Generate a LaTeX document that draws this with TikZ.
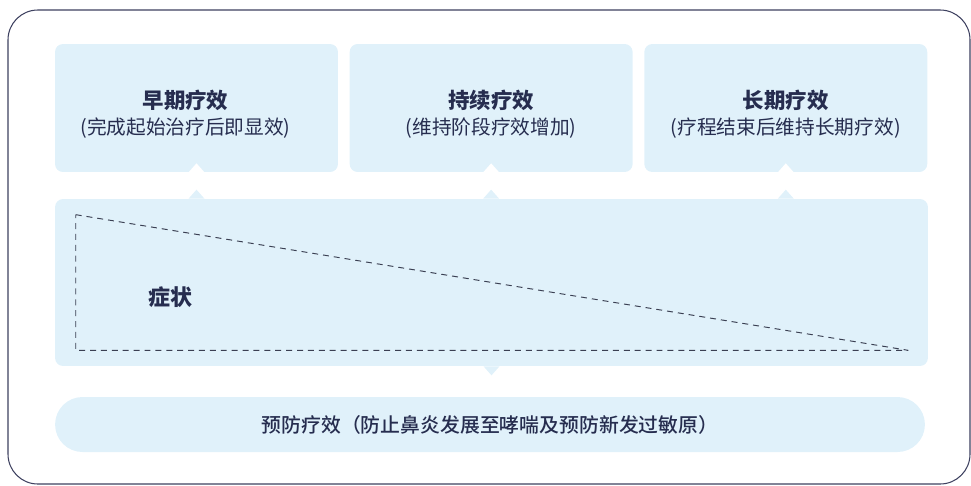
\documentclass[tikz,border=0pt]{standalone}
\usepackage{fontspec}
\setmainfont{Noto Sans CJK SC}
\newfontfamily\cjkmed{Noto Sans CJK SC Medium}
\usetikzlibrary{positioning, calc}
\definecolor{cBox}{HTML}{E0F1FA}
\definecolor{cInk}{HTML}{262D4F}
\definecolor{cFrame}{HTML}{3E4160}
\definecolor{cDash}{HTML}{3A3F52}

\begin{document}
\begin{tikzpicture}[x=0.02cm, y=-0.02cm,
    stagebox/.style={fill=cBox, rounded corners=4.5pt, minimum width=5.66cm, minimum height=2.56cm, inner sep=0pt},
    stagetitle/.style={text=cInk, font=\fontsize{12.2}{14}\selectfont\bfseries},
    stagesub/.style={text=cInk, font=\fontsize{11.2}{13}\selectfont}]
    \useasboundingbox (0,0) rectangle (971,485);
    % Frame
    \draw[cFrame, line width=0.6pt, rounded corners=17pt] (8,10) rectangle (970,484);
    % Stages
    \node[stagebox] (early) at (196.5,108) {};
    \node[stagebox, right=0.22cm of early] (sustained) {};
    \node[stagebox, right=0.22cm of sustained] (longterm) {};
    \foreach \s/\dx/\t/\u in {early/-11/早期疗效/(完成起始治疗后即显效),
                              sustained/0/持续疗效/(维持阶段疗效增加),
                              longterm/0/长期疗效/(疗程结束后维持长期疗效)} {
      \node[stagetitle] (\s-title) at ($(\s.center)+(\dx,-8)$) {\t};
      \node[stagesub] (\s-sub) at ($(\s.center)+(\dx,20)$) {\u};
      \fill[white] ($(\s.south)+(-8,0)$) -- ($(\s.south)+(0,-9)$) -- ($(\s.south)+(8,0)$) -- cycle;
    }
    % Symptom
    \node[fill=cBox, rounded corners=4.5pt, minimum width=17.46cm, minimum height=3.34cm, inner sep=0pt] (symptom) at (491.5,282.5) {};
    \foreach \s in {early, sustained, longterm}
      \fill[cBox] (\s.south |- symptom.north) ++(-8,0) -- ++(8,-9) -- ++(8,9) -- cycle;
    \fill[cBox] (symptom.south) ++(-8,0) -- ++(8,9) -- ++(8,-9) -- cycle;
    \coordinate (peak) at ($(symptom.north west)+(21,16)$);
    \coordinate (tail) at ($(symptom.south east)+(-20,-16)$);
    \draw[cDash, line width=0.55pt, dash pattern=on 3.4pt off 2.8pt] (peak) -- (tail) -- (peak |- tail) -- cycle;
    \node[text=cInk, font=\fontsize{12.5}{14}\selectfont\bfseries] (symptom-label) at (170,297) {症状};
    % Prevention
    \node[fill=cBox, rounded corners=15.6pt, minimum width=17.4cm, minimum height=1.1cm, inner sep=0pt,
          text=cInk, font=\fontsize{11.3}{13}\selectfont\cjkmed] (prevent) at (490,424.5)
         {预防疗效（防止鼻炎发展至哮喘及预防新发过敏原）};
  \end{tikzpicture}
\end{document}
